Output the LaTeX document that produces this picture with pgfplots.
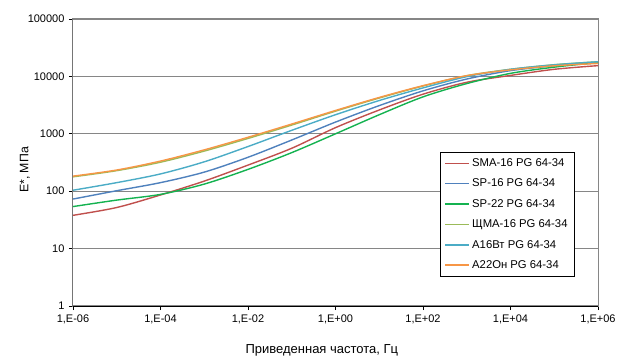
\documentclass[border=0pt]{standalone}
\usepackage{pgfplots}
\pgfplotsset{compat=1.18}
\usepackage{fontspec}
\setmainfont{Liberation Sans}
\definecolor{cRed}{RGB}{192,80,77}
\definecolor{cBlue}{RGB}{79,129,189}
\definecolor{cGreen}{RGB}{20,178,80}
\definecolor{cOlive}{RGB}{155,187,89}
\definecolor{cCyan}{RGB}{75,172,198}
\definecolor{cOrange}{RGB}{247,150,70}
\definecolor{cGrid}{RGB}{134,134,134}
\begin{document}
\begin{tikzpicture}[x=1pt,y=1pt]
\begin{axis}[
  at={(0,0)}, anchor=south west,
  scale only axis, width=525pt, height=287pt,
  xmode=log, ymode=log,
  xmin=1e-6, xmax=1e6, ymin=1, ymax=100000,
  xtick={1e-6,1e-4,1e-2,1,1e2,1e4,1e6},
  xticklabels={{1,E-06},{1,E-04},{1,E-02},{1,E+00},{1,E+02},{1,E+04},{1,E+06}},
  ytick={1,10,100,1000,10000,100000},
  yticklabels={1,10,100,1000,10000,100000},
  xminorticks=false, yminorticks=false,
  tick pos=left, tick align=outside, major tick length=4pt,
  tick style={black, line width=0.8pt},
  ymajorgrids, grid style={cGrid, line width=1.1pt},
  axis line style={cGrid, line width=1pt},
  ticklabel style={font=\fontsize{11}{13}\selectfont},
  xticklabel style={yshift=-1pt},
  yticklabel style={xshift=-1pt},
  xlabel={Приведенная частота, Гц},
  ylabel={E*, МПа},
  xlabel style={font=\fontsize{13}{15}\selectfont, at={(axis description cs:0.474,-0.153)}, anchor=center},
  ylabel style={font=\fontsize{12.3}{14}\selectfont, at={(axis description cs:-0.0914,0.474)}, anchor=center},
  legend style={at={(axis description cs:0.699,0.537)}, anchor=north west,
    font=\fontsize{11.3}{13}\selectfont,
    row sep=7pt, inner xsep=4.5pt, inner ysep=4.5pt, cells={anchor=west}},
  legend image code/.code={\draw[#1, line width=1.5pt] (0pt,0pt) -- (24pt,0pt);},
  every axis plot/.append style={line width=1.4pt, smooth, no markers},
]
\addplot[cRed] coordinates {(1e-6,38) (1e-5,52) (1e-4,86) (1e-3,150) (1e-2,285) (1e-1,560) (1,1280) (1e1,2600) (1e2,4900) (1e3,7900) (1e4,10400) (1e5,13300) (1e6,15400)};
\addplot[cBlue] coordinates {(1e-6,73) (1e-5,102) (1e-4,141) (1e-3,215) (1e-2,390) (1e-1,780) (1,1600) (1e1,3100) (1e2,5600) (1e3,9000) (1e4,12600) (1e5,15300) (1e6,17200)};
\addplot[cGreen] coordinates {(1e-6,54) (1e-5,70) (1e-4,88) (1e-3,133) (1e-2,240) (1e-1,470) (1,1000) (1e1,2150) (1e2,4400) (1e3,7500) (1e4,11300) (1e5,14500) (1e6,17500)};
\addplot[cOlive] coordinates {(1e-6,178) (1e-5,228) (1e-4,320) (1e-3,500) (1e-2,830) (1e-1,1420) (1,2480) (1e1,4200) (1e2,6800) (1e3,10300) (1e4,13300) (1e5,16000) (1e6,18000)};
\addplot[cCyan] coordinates {(1e-6,104) (1e-5,141) (1e-4,200) (1e-3,325) (1e-2,600) (1e-1,1150) (1,2150) (1e1,3800) (1e2,6300) (1e3,9900) (1e4,13300) (1e5,15900) (1e6,18000)};
\addplot[cOrange] coordinates {(1e-6,183) (1e-5,234) (1e-4,335) (1e-3,525) (1e-2,870) (1e-1,1480) (1,2550) (1e1,4300) (1e2,6900) (1e3,10300) (1e4,13000) (1e5,15300) (1e6,16800)};
\legend{SMA-16 PG 64-34, SP-16 PG 64-34, SP-22 PG 64-34, ЩМА-16 PG 64-34, A16Вт PG 64-34, A22Он PG 64-34}
\draw[black, line width=1pt] (rel axis cs:0,1) -- (rel axis cs:0,0) -- (rel axis cs:1,0);
\end{axis}
\pgfresetboundingbox
\path[use as bounding box] (-73pt,-51pt) rectangle (547pt,306pt);
\end{tikzpicture}
\end{document}
